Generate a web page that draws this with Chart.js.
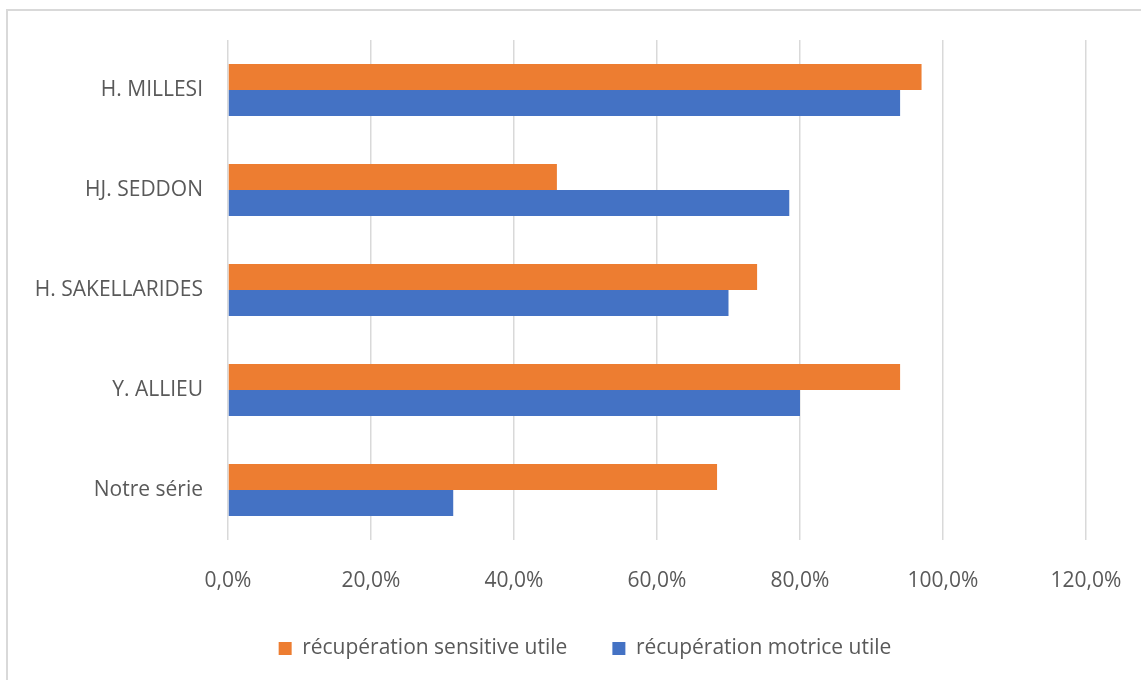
<!DOCTYPE html>
<html>
<head>
<meta charset="utf-8">
<script src="https://cdn.jsdelivr.net/npm/chart.js@4"></script>
<style>
  html, body { margin: 0; padding: 0; background: #fff; overflow: hidden; }
  #wrap { position: relative; width: 1141px; height: 680px; }
  #cadre { position: absolute; left: 6px; top: 9px; width: 1200px; height: 720px; border: 2px solid #d9d9d9; box-sizing: border-box; }
  canvas { position: absolute; left: 0; top: 0; }
</style>
</head>
<body>
<div id="wrap">
  <div id="cadre"></div>
  <canvas id="graficoSeries" width="1141" height="680"></canvas>
</div>
<script>
const auteurs = ['H. MILLESI', 'HJ. SEDDON', 'H. SAKELLARIDES', 'Y. ALLIEU', 'Notre série'];
const sensitive = [97, 46, 74, 94, 68.4];
const motrice = [94, 78.5, 70, 80, 31.5];
const ticksX = [0, 20, 40, 60, 80, 100, 120];

Chart.defaults.font.family = '"Open Sans", sans-serif';
Chart.defaults.color = '#595959';

// the legend sits a bit right of the canvas centre, like in Excel
const decalerLegende = {
    id: 'decalerLegende',
    afterLayout(chart) {
        chart.legend.left += 42;
        chart.legend.right += 42;
    }
};

const ctx = document.getElementById('graficoSeries').getContext('2d');
new Chart(ctx, {
    type: 'bar',
    data: {
        labels: auteurs,
        datasets: [{
            label: 'récupération sensitive utile',
            data: sensitive,
            backgroundColor: '#ED7D31',
            borderWidth: 0
        }, {
            label: 'récupération motrice utile',
            data: motrice,
            backgroundColor: '#4472C4',
            borderWidth: 0
        }]
    },
    options: {
        indexAxis: 'y',
        responsive: false,
        animation: false,
        datasets: {
            bar: { categoryPercentage: 0.52, barPercentage: 1 }
        },
        layout: {
            padding: { left: 0, right: 55, top: 40, bottom: 11 }
        },
        scales: {
            x: {
                min: ticksX[0],
                max: ticksX[ticksX.length - 1],
                afterBuildTicks: axis => { axis.ticks = ticksX.map(v => ({ value: v })); },
                afterFit: axis => {
                    axis.height = 53;
                    axis.paddingLeft = 0;
                    axis.paddingRight = 0;
                },
                ticks: {
                    padding: 28,
                    font: { size: 21 },
                    callback: v => v.toFixed(1).replace('.', ',') + '%'
                },
                grid: { color: '#d9d9d9', lineWidth: 1.5, drawTicks: false },
                border: { display: false }
            },
            y: {
                afterFit: axis => { axis.width = 228; },
                ticks: { padding: 25, font: { size: 21 } },
                grid: { display: false, drawTicks: false },
                border: { display: false }
            }
        },
        plugins: {
            tooltip: { enabled: false },
            legend: {
                position: 'bottom',
                labels: {
                    boxWidth: 13,
                    boxHeight: 13,
                    padding: 45,
                    font: { size: 21 }
                }
            }
        }
    },
    plugins: [decalerLegende]
});
</script>
</body>
</html>
